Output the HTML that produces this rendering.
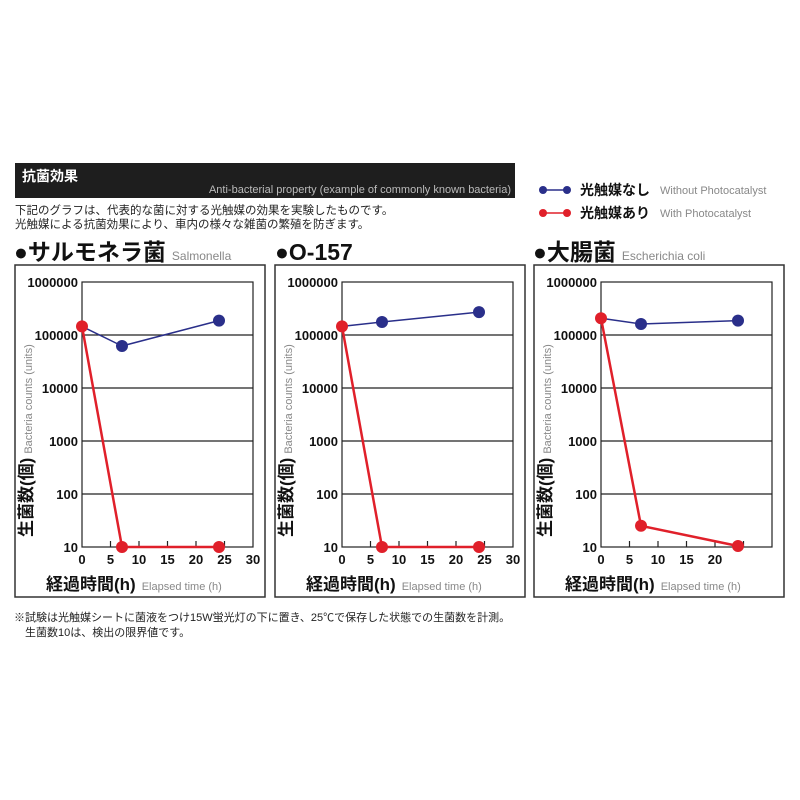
<!DOCTYPE html>
<html><head><meta charset="utf-8"><style>
body{margin:0;background:#fff;}
svg{display:block;font-family:"Liberation Sans","Noto Sans CJK JP",sans-serif;}
.b{font-weight:bold;fill:#111;}
.g{fill:#888;}
</style></head><body>
<svg width="800" height="800" viewBox="0 0 800 800" xmlns="http://www.w3.org/2000/svg">
<defs>
<g id="frame">
  <rect x="0" y="0" width="250" height="332" fill="#fff" stroke="#333" stroke-width="1.5"/>
  <rect x="67" y="17" width="171" height="265" fill="#fff" stroke="#222" stroke-width="1.2"/>
  <g stroke="#222" stroke-width="1.2">
    <line x1="67" y1="70" x2="238" y2="70"/><line x1="67" y1="123" x2="238" y2="123"/>
    <line x1="67" y1="176" x2="238" y2="176"/><line x1="67" y1="229" x2="238" y2="229"/>
    <line x1="95.5" y1="282" x2="95.5" y2="276"/><line x1="124" y1="282" x2="124" y2="276"/>
    <line x1="152.5" y1="282" x2="152.5" y2="276"/><line x1="181" y1="282" x2="181" y2="276"/>
    <line x1="209.5" y1="282" x2="209.5" y2="276"/>
  </g>
  <g class="b" font-size="13" text-anchor="end">
    <text x="63" y="22">1000000</text><text x="63" y="75">100000</text>
    <text x="63" y="128">10000</text><text x="63" y="181">1000</text>
    <text x="63" y="234">100</text><text x="63" y="287">10</text>
  </g>
  <text transform="translate(17,272) rotate(-90)"><tspan class="b" font-size="17">生菌数(個)</tspan><tspan class="g" font-size="11" dx="4">Bacteria counts (units)</tspan></text>
  <text x="31" y="325"><tspan class="b" font-size="17">経過時間(h)</tspan><tspan class="g" font-size="11" dx="6">Elapsed time (h)</tspan></text>
</g>
</defs>
<rect x="15" y="163" width="500" height="35" fill="#1e1e1e"/>
<text x="22" y="181" font-size="14" font-weight="bold" fill="#fff">抗菌効果</text>
<text x="511" y="193" font-size="11" fill="#bbb" text-anchor="end">Anti-bacterial property (example of commonly known bacteria)</text>
<text x="15" y="214" font-size="11.5" fill="#222">下記のグラフは、代表的な菌に対する光触媒の効果を実験したものです。</text>
<text x="15" y="228" font-size="11.5" fill="#222">光触媒による抗菌効果により、車内の様々な雑菌の繁殖を防ぎます。</text>
<line x1="541" y1="190" x2="567" y2="190" stroke="#2a2f8a" stroke-width="1.5"/>
<circle cx="543" cy="190" r="4" fill="#2a2f8a"/><circle cx="567" cy="190" r="4" fill="#2a2f8a"/>
<text x="580" y="195" font-size="14" class="b">光触媒なし</text>
<text x="660" y="194" font-size="11" class="g">Without Photocatalyst</text>
<line x1="541" y1="213" x2="567" y2="213" stroke="#e0202a" stroke-width="1.5"/>
<circle cx="543" cy="213" r="4" fill="#e0202a"/><circle cx="567" cy="213" r="4" fill="#e0202a"/>
<text x="580" y="218" font-size="14" class="b">光触媒あり</text>
<text x="660" y="217" font-size="11" class="g">With Photocatalyst</text>

<text x="14" y="260" class="b" font-size="23">●サルモネラ菌<tspan class="g" font-size="12" font-weight="normal" dx="6">Salmonella</tspan></text>
<text x="275" y="260" class="b" font-size="23">●O-157</text>
<text x="533" y="260" class="b" font-size="23">●大腸菌<tspan class="g" font-size="12" font-weight="normal" dx="6">Escherichia coli</tspan></text>

<!-- Panel 1 -->
<g transform="translate(15,265)">
  <use href="#frame"/>
  <g class="b" font-size="13" text-anchor="middle">
    <text x="67" y="299">0</text><text x="95.5" y="299">5</text><text x="124" y="299">10</text><text x="152.5" y="299">15</text><text x="181" y="299">20</text><text x="209.5" y="299">25</text><text x="238" y="299">30</text>
  </g>
  <polyline points="67,61.4 107,81 204,55.6" fill="none" stroke="#2a2f8a" stroke-width="1.5"/>
  <polyline points="67,61.4 107,282 204,282" fill="none" stroke="#e0202a" stroke-width="2.5"/>
  <g fill="#2a2f8a"><circle cx="107" cy="81" r="6"/><circle cx="204" cy="55.6" r="6"/></g>
  <g fill="#e0202a"><circle cx="67" cy="61.4" r="6"/><circle cx="107" cy="282" r="6"/><circle cx="204" cy="282" r="6"/></g>
</g>
<!-- Panel 2 -->
<g transform="translate(275,265)">
  <use href="#frame"/>
  <g class="b" font-size="13" text-anchor="middle">
    <text x="67" y="299">0</text><text x="95.5" y="299">5</text><text x="124" y="299">10</text><text x="152.5" y="299">15</text><text x="181" y="299">20</text><text x="209.5" y="299">25</text><text x="238" y="299">30</text>
  </g>
  <polyline points="67,61.4 107,57 204,47.1" fill="none" stroke="#2a2f8a" stroke-width="1.5"/>
  <polyline points="67,61.4 107,282 204,282" fill="none" stroke="#e0202a" stroke-width="2.5"/>
  <g fill="#2a2f8a"><circle cx="107" cy="57" r="6"/><circle cx="204" cy="47.1" r="6"/></g>
  <g fill="#e0202a"><circle cx="67" cy="61.4" r="6"/><circle cx="107" cy="282" r="6"/><circle cx="204" cy="282" r="6"/></g>
</g>
<!-- Panel 3 -->
<g transform="translate(534,265)">
  <use href="#frame"/>
  <g class="b" font-size="13" text-anchor="middle">
    <text x="67" y="299">0</text><text x="95.5" y="299">5</text><text x="124" y="299">10</text><text x="152.5" y="299">15</text><text x="181" y="299">20</text>
  </g>
  <polyline points="67,53.2 107,59 204,55.6" fill="none" stroke="#2a2f8a" stroke-width="1.5"/>
  <polyline points="67,53.2 107,260.8 204,281" fill="none" stroke="#e0202a" stroke-width="2.5"/>
  <g fill="#2a2f8a"><circle cx="107" cy="59" r="6"/><circle cx="204" cy="55.6" r="6"/></g>
  <g fill="#e0202a"><circle cx="67" cy="53.2" r="6"/><circle cx="107" cy="260.8" r="6"/><circle cx="204" cy="281" r="6"/></g>
</g>

<text x="14" y="621" font-size="11" fill="#222">※試験は光触媒シートに菌液をつけ15W蛍光灯の下に置き、25℃で保存した状態での生菌数を計測。</text>
<text x="25" y="636" font-size="11" fill="#222">生菌数10は、検出の限界値です。</text>
</svg>
</body></html>
